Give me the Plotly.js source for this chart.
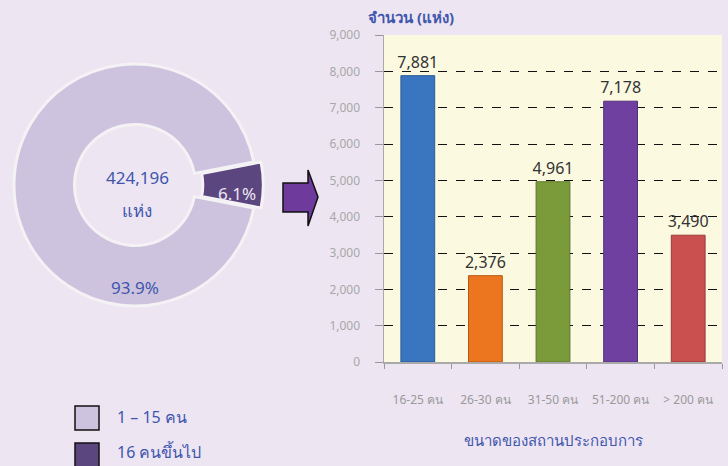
<!DOCTYPE html>
<html>
<head>
<meta charset="utf-8">
<script src="https://cdn.plot.ly/plotly-3.0.1.min.js"></script>
<style>html,body{margin:0;padding:0;background:#ede5f2;}#chart{width:728px;height:466px;}</style>
</head>
<body>
<div id="chart"></div>
<script>
// ---- data ----
const pieLabels = ["16 คนขึ้นไป", "1 – 15 คน"];
const pieShares = [6.1, 93.9];
const pieTotal = 424196;
const pieUnit = "แห่ง";
const legendLabels = ["1 – 15 คน", "16 คนขึ้นไป"];

const barCategories = ["16-25 คน", "26-30 คน", "31-50 คน", "51-200 คน", "> 200 คน"];
const barValues = [7881, 2376, 4961, 7178, 3490];
const yTickValues = [0, 1000, 2000, 3000, 4000, 5000, 6000, 7000, 8000, 9000];
const yAxisTitle = "จำนวน (แห่ง)";
const xAxisTitle = "ขนาดของสถานประกอบการ";

// ---- styles ----
const W = 728, H = 466;
const px = x => x / W, py = y => 1 - y / H;
const FONT = "Noto Sans, Tahoma, sans-serif";
const BLUE = "#3f56ad";
const barColors = ["#3a76c0", "#ec761f", "#7b9b3b", "#7040a0", "#c9504f"];
const barLines = ["#2a5a96", "#b85812", "#5c7628", "#52307a", "#9a3a3a"];
const pieColors = ["#5c4680", "#cec3de"];

const fmt = v => v.toLocaleString("en-US");

const pie = {
  type: "pie",
  labels: pieLabels,
  values: pieShares,
  sort: false,
  direction: "clockwise",
  rotation: 90 - pieShares[0] * 3.6 / 2,
  hole: 0.5,
  pull: [0.06, 0],
  marker: { colors: pieColors, line: { color: "#f4f2f4", width: 3 } },
  textinfo: "none",
  hoverinfo: "none",
  showlegend: false,
  domain: { x: [px(135 - 128.3), px(135 + 128.3)], y: [py(185 + 128.3), py(185 - 128.3)] }
};

const bars = {
  type: "bar",
  x: barCategories,
  y: barValues,
  marker: { color: barColors, line: { color: barLines, width: 1 } },
  text: barValues.map(fmt),
  textposition: "outside",
  constraintext: "none",
  cliponaxis: false,
  textfont: { family: FONT, size: 16, color: "#333333" },
  hoverinfo: "none",
  showlegend: false,
  xaxis: "x", yaxis: "y"
};

const ann = (x, y, text, size, color, xanchor) => ({
  x: px(x), y: py(y), xref: "paper", yref: "paper", text: text, showarrow: false,
  xanchor: xanchor || "center", yanchor: "middle",
  font: { family: FONT, size: size, color: color }
});

const annotations = [
  ann(137, 178, fmt(pieTotal), 17, BLUE),
  ann(137, 210, pieUnit, 17, BLUE),
  ann(135, 287, pieShares[1].toFixed(1) + "%", 17, BLUE),
  ann(237, 193, pieShares[0].toFixed(1) + "%", 17, "#ece6f2"),
  ann(366, 17, "<b>" + yAxisTitle + "</b>", 15, BLUE, "left"),
  ann(115, 417, legendLabels[0], 16, BLUE, "left"),
  ann(115, 452, legendLabels[1], 16, BLUE, "left")
];

const arrowPts = [[283,183],[308,183],[308,170],[318,197],[308,226],[308,212],[283,212]];
const arrowPath = "M" + arrowPts.map(p => px(p[0]) + "," + py(p[1])).join(" L") + " Z";

const shapes = [
  { type: "rect", xref: "paper", yref: "paper", x0: px(75), x1: px(99), y0: py(406), y1: py(430), fillcolor: pieColors[1], line: { color: "#111", width: 1.5 } },
  { type: "rect", xref: "paper", yref: "paper", x0: px(75), x1: px(99), y0: py(443), y1: py(467), fillcolor: pieColors[0], line: { color: "#111", width: 1.5 } },
  { type: "path", xref: "paper", yref: "paper", path: arrowPath, fillcolor: "#6e3a9b", line: { color: "#111", width: 1.5 } }
];

const layout = {
  width: W, height: H,
  margin: { l: 0, r: 0, t: 0, b: 0 },
  paper_bgcolor: "#ede5f2",
  plot_bgcolor: "#fcf9e1",
  font: { family: FONT },
  bargap: 0.5,
  xaxis: {
    domain: [px(384), px(722)],
    tickson: "boundaries",
    ticks: "outside", ticklen: 5, tickcolor: "#999",
    showline: true, linecolor: "#aaa", linewidth: 1.5,
    showgrid: false,
    tickfont: { family: FONT, size: 12, color: "#9a9a9a" },
    ticklabelstandoff: 26,
    title: { text: xAxisTitle, font: { family: FONT, size: 15, color: BLUE }, standoff: 28 },
    fixedrange: true
  },
  yaxis: {
    domain: [py(362), py(35)],
    range: [0, 9000],
    tickvals: yTickValues,
    ticktext: yTickValues.map(fmt),
    ticks: "outside", ticklen: 8, tickcolor: "#999",
    showline: true, linecolor: "#aaa", linewidth: 1.5,
    showgrid: true, gridcolor: "#111", griddash: "dash", gridwidth: 1,
    zeroline: false,
    tickfont: { family: FONT, size: 12, color: "#a8a8a8" },
    ticklabelstandoff: 12,
    fixedrange: true
  },
  annotations: annotations,
  shapes: shapes
};

Plotly.newPlot("chart", [pie, bars], layout, { displayModeBar: false, staticPlot: true });
</script>
</body>
</html>
